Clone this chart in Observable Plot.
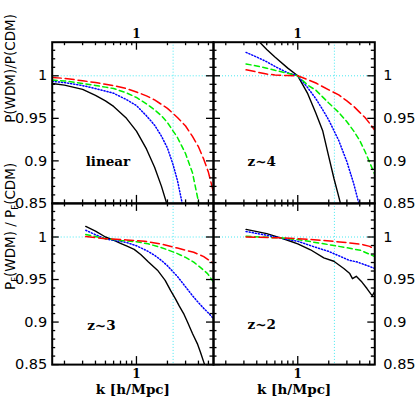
<!DOCTYPE html>
<html>
<head>
<meta charset="utf-8">
<script src="https://cdn.jsdelivr.net/npm/d3@7"></script>
<script src="https://cdn.jsdelivr.net/npm/@observablehq/plot@0.6"></script>
<style>
  html, body { margin: 0; padding: 0; background: #fff; }
  #chart { position: relative; width: 415px; height: 415px; overflow: hidden; background: #fff; }
  #chart > svg { position: absolute; left: 0; top: 0; max-width: none; }
</style>
</head>
<body>
<div id="chart"></div>
<script>
// ---------------- data ----------------
// panel "linear"
const kLinBlack = [0.152,0.2,0.3,0.4,0.5,0.6,0.8,1.0,1.25,1.5,1.75,2.0,2.5];
const vLinBlack = [0.991,0.989,0.984,0.977,0.9705,0.964,0.950,0.935,0.914,0.8925,0.870,0.847,0.80];
const kLinBlue  = [0.152,0.2,0.3,0.4,0.5,0.6,0.8,1.0,1.25,1.5,1.75,2.0,2.25,2.5,2.75,3.0];
const vLinBlue  = [0.9935,0.992,0.9885,0.985,0.982,0.9795,0.972,0.965,0.953,0.942,0.929,0.915,0.897,0.877,0.853,0.825];
const kLinGreen = [0.152,0.2,0.3,0.4,0.5,0.6,0.8,1.0,1.25,1.5,1.75,2.0,2.5,3.0,3.5,4.0,4.5];
const vLinGreen = [0.995,0.994,0.991,0.9887,0.9867,0.985,0.980,0.9745,0.967,0.960,0.953,0.945,0.9275,0.9085,0.886,0.852,0.82];
const kLinRed   = [0.152,0.2,0.3,0.4,0.5,0.6,0.8,1.0,1.25,1.5,2.0,2.5,3.0,3.5,4.0,4.5,5.0,5.6];
const vLinRed   = [0.998,0.997,0.9942,0.992,0.990,0.9885,0.985,0.981,0.9764,0.9717,0.9617,0.951,0.941,0.9287,0.9166,0.902,0.8865,0.863];

// panel "z~4"
const kZ4Black = [0.315,0.4,0.5,0.6,0.8,1.0,1.25,1.5,1.75,2.0,2.25,2.5,2.75,3.0];
const vZ4Black = [1.056,1.043,1.031,1.022,1.009,1.0,0.979,0.956,0.935,0.905,0.879,0.858,0.838,0.82];
const kZ4Blue  = [0.315,0.4,0.5,0.6,0.8,1.0,1.25,1.5,1.75,2.0,2.5,3.0,3.5,4.0,4.5];
const vZ4Blue  = [1.0275,1.022,1.0165,1.011,1.0035,1.0,0.986,0.973,0.960,0.948,0.924,0.899,0.873,0.846,0.82];
const kZ4Green = [0.315,0.4,0.5,0.6,0.8,1.0,1.25,1.5,2.0,2.5,3.0,3.5,4.0,4.5,5.0,5.6];
const vZ4Green = [1.014,1.0115,1.009,1.0065,1.003,1.0,0.989,0.983,0.968,0.957,0.946,0.935,0.924,0.911,0.898,0.884];
const kZ4Red   = [0.315,0.4,0.5,0.6,0.8,1.0,1.25,1.5,2.0,2.5,3.0,3.5,4.0,4.5,5.0,5.6];
const vZ4Red   = [1.007,1.0045,1.002,1.001,1.0003,1.0,0.9955,0.9915,0.9835,0.9775,0.9705,0.964,0.957,0.951,0.944,0.936];

// panel "z~3"
const kZ3Black = [0.322,0.4,0.5,0.6,0.7,0.8,0.95,1.1,1.3,1.6,1.9,2.15,2.4,2.6,2.9,3.13,3.5,3.9,4.2,4.53,5.0];
const vZ3Black = [1.0125,1.007,1.0,0.9962,0.9926,0.9895,0.9855,0.9795,0.971,0.961,0.949,0.937,0.927,0.919,0.909,0.900,0.8865,0.8747,0.864,0.852,0.835];
const kZ3Blue  = [0.322,0.4,0.5,0.6,0.8,1.0,1.25,1.5,1.75,2.0,2.5,3.0,3.5,4.0,4.5,5.0,5.6];
const vZ3Blue  = [1.0079,1.0027,0.9978,0.9961,0.9936,0.9897,0.9841,0.9785,0.9724,0.9662,0.9536,0.9414,0.931,0.9228,0.9161,0.9106,0.904];
const kZ3Green = [0.322,0.4,0.5,0.7,1.0,1.3,1.7,2.0,2.5,3.0,3.6,4.2,4.9,5.6];
const vZ3Green = [1.003,1.0005,0.998,0.996,0.9945,0.992,0.988,0.985,0.9805,0.976,0.9705,0.964,0.957,0.947];
const kZ3Red   = [0.322,0.5,0.8,1.2,1.7,2.5,3.6,4.5,5.6];
const vZ3Red   = [1.0005,0.998,0.9965,0.995,0.992,0.987,0.982,0.977,0.969];

// panel "z~2"
const kZ2Black = [0.315,0.5,0.68,0.85,1.0,1.33,1.79,2.24,2.8,3.2,3.4,3.7,4.2,4.7,5.1,5.3,5.6];
const vZ2Black = [1.009,1.004,0.999,0.995,0.992,0.985,0.9755,0.9715,0.963,0.957,0.951,0.9538,0.947,0.9394,0.9335,0.931,0.936];
const kZ2Blue  = [0.315,0.5,0.7,1.0,1.4,2.0,2.5,3.1,3.8,4.7,5.6];
const vZ2Blue  = [1.0065,1.002,0.9985,0.995,0.989,0.983,0.978,0.973,0.9705,0.9665,0.963];
const kZ2Green = [0.315,0.68,1.0,1.79,2.8,4.06,5.6];
const vZ2Green = [1.0008,0.999,0.997,0.992,0.988,0.9844,0.977];
const kZ2Red   = [0.315,0.68,1.0,1.79,3.02,4.3,5.0,5.6];
const vZ2Red   = [1.0,0.999,0.998,0.996,0.9934,0.991,0.989,0.9855];

// axes
const kDomain = [0.152, 5.6];
const vDomain = [0.85, 1.0395];
const kRef = [2.27];
const vRef = [1];
const kTicksMajor = [1];
const kTickLabels = ["1"];
const kTicksMinor = [0.2,0.3,0.4,0.5,0.6,0.7,0.8,0.9,2,3,4,5];
const vTicksMajor = [0.85,0.9,0.95,1];
const vTickLabels = ["0.85","0.9","0.95","1"];
const vTicksMinor = [0.86,0.87,0.88,0.89,0.91,0.92,0.93,0.94,0.96,0.97,0.98,0.99,1.01,1.02,1.03];

const panelLabels = ["linear","z~4","z~3","z~2"];
const yTitleTop = "P(WDM)/P(CDM)";
const yTitleBottom = "PF(WDM) / PF(CDM)";
const xTitle = "k [h/Mpc]";

// ---------------- styles ----------------
const styles = {
  black: {stroke: "#000000", strokeWidth: 1.4, strokeDasharray: null},
  blue:  {stroke: "#0000ff", strokeWidth: 1.5, strokeDasharray: "1.1,2"},
  green: {stroke: "#00ee00", strokeWidth: 1.5, strokeDasharray: "5,3.5"},
  red:   {stroke: "#ff0000", strokeWidth: 1.5, strokeDasharray: "9,4"}
};

const zipKV = (ks, vs) => ks.map((k, i) => ({k, v: vs[i]}));

const W = 161.3, H = 161.2;
const SANS = "DejaVu Sans", SERIF = "DejaVu Serif";

function makePanel(p) {
  const marks = [
    Plot.ruleX(kRef, {x: d => d, stroke: "#33e6f0", strokeWidth: 0.9, strokeDasharray: "1,2"}),
    Plot.ruleY(vRef, {y: d => d, stroke: "#33e6f0", strokeWidth: 0.9, strokeDasharray: "1,2"})
  ];
  for (const [name, ks, vs] of p.series) {
    const s = styles[name];
    marks.push(Plot.line(zipKV(ks, vs), {x: "k", y: "v", stroke: s.stroke, strokeWidth: s.strokeWidth,
      strokeDasharray: s.strokeDasharray, clip: true, strokeLinejoin: "round"}));
  }
  marks.push(Plot.frame({stroke: "#000", strokeWidth: 2}));
  const tk = {stroke: "#000", strokeWidth: 1.3};
  marks.push(
    Plot.ruleX(kTicksMinor, {x: d => d, insetTop: H - 3.5, ...tk}),
    Plot.ruleX(kTicksMinor, {x: d => d, insetBottom: H - 3.5, ...tk}),
    Plot.ruleX(kTicksMajor, {x: d => d, insetTop: H - 8, ...tk}),
    Plot.ruleX(kTicksMajor, {x: d => d, insetBottom: H - 8, ...tk}),
    Plot.ruleY(vTicksMinor, {y: d => d, insetRight: W - 3.5, ...tk}),
    Plot.ruleY(vTicksMinor, {y: d => d, insetLeft: W - 3.5, ...tk}),
    Plot.ruleY(vTicksMajor, {y: d => d, insetRight: W - 7, ...tk}),
    Plot.ruleY(vTicksMajor, {y: d => d, insetLeft: W - 7, ...tk})
  );
  if (p.ySide === "left") {
    marks.push(Plot.text(vTicksMajor, {y: d => d, text: (d, i) => vTickLabels[i], frameAnchor: "left",
      textAnchor: "end", dx: -5, fontSize: 14.5, fontFamily: SANS, fill: "#000"}));
  } else {
    marks.push(Plot.text(vTicksMajor, {y: d => d, text: (d, i) => vTickLabels[i], frameAnchor: "right",
      textAnchor: "start", dx: 8.5, fontSize: 14.5, fontFamily: SANS, fill: "#000"}));
  }
  marks.push(Plot.text(kTicksMajor, {x: d => d, text: (d, i) => kTickLabels[i],
    frameAnchor: p.xSide, dy: p.xSide === "top" ? -12.5 : 13.5,
    fontSize: 12, fontWeight: "bold", fontFamily: SERIF, fill: "#000"}));
  marks.push(Plot.text([p.label], {text: d => d, frameAnchor: "top-left", textAnchor: "start",
    dx: p.labelDx, dy: p.labelDy, fontSize: 13.5, fontWeight: "bold", fontFamily: SERIF, fill: "#000"}));
  if (p.yTitle) {
    marks.push(Plot.text([p.yTitle], {text: d => d, frameAnchor: "left", rotate: -90, dx: -42, dy: p.yTitleDy,
      fontSize: 13.5, fontFamily: SANS, fill: "#000"}));
  }
  if (p.xTitle) {
    marks.push(Plot.text([p.xTitle], {text: d => d, frameAnchor: "bottom", dy: 29.5,
      fontSize: 13.5, fontWeight: "bold", fontFamily: SERIF, fill: "#000"}));
  }
  return Plot.plot({
    width: 415, height: 415,
    marginLeft: p.left, marginTop: p.top,
    marginRight: 415 - p.left - W, marginBottom: 415 - p.top - H,
    x: {type: "log", domain: kDomain, axis: null},
    y: {domain: vDomain, axis: null},
    style: {background: "transparent", overflow: "visible"},
    marks
  });
}

const L1 = 51.7, L2 = 51.7 + W, T1 = 41.7, T2 = 41.7 + H;

const panels = [
  {left: L1, top: T1, ySide: "left", xSide: "top", label: panelLabels[0], labelDx: 33.5, labelDy: 114,
   yTitle: yTitleTop, yTitleDy: 0,
   series: [["black", kLinBlack, vLinBlack], ["blue", kLinBlue, vLinBlue], ["green", kLinGreen, vLinGreen], ["red", kLinRed, vLinRed]]},
  {left: L2, top: T1, ySide: "right", xSide: "top", label: panelLabels[1], labelDx: 34, labelDy: 114,
   series: [["black", kZ4Black, vZ4Black], ["blue", kZ4Blue, vZ4Blue], ["green", kZ4Green, vZ4Green], ["red", kZ4Red, vZ4Red]]},
  {left: L1, top: T2, ySide: "left", xSide: "bottom", label: panelLabels[2], labelDx: 35, labelDy: 117,
   yTitle: yTitleBottom, yTitleDy: 6, xTitle: xTitle,
   series: [["black", kZ3Black, vZ3Black], ["blue", kZ3Blue, vZ3Blue], ["green", kZ3Green, vZ3Green], ["red", kZ3Red, vZ3Red]]},
  {left: L2, top: T2, ySide: "right", xSide: "bottom", label: panelLabels[3], labelDx: 34, labelDy: 116, xTitle: xTitle,
   series: [["black", kZ2Black, vZ2Black], ["blue", kZ2Blue, vZ2Blue], ["green", kZ2Green, vZ2Green], ["red", kZ2Red, vZ2Red]]}
];

const chart = document.getElementById("chart");
for (const p of panels) {
  const svg = makePanel(p);
  chart.appendChild(svg);
  d3.select(svg).selectAll("text").each(function() {
    if (this.textContent === yTitleBottom) {
      const t = d3.select(this);
      t.text(null);
      const parts = [["P", 0], ["F", 1], ["(WDM) / P", 0], ["F", 1], ["(CDM)", 0]];
      let shifted = false;
      for (const [str, sub] of parts) {
        const ts = t.append("tspan").text(str);
        if (sub) { ts.attr("dy", 3.5).attr("font-size", 8.5); shifted = true; }
        else if (shifted) { ts.attr("dy", -3.5); shifted = false; }
      }
    }
  });
}
</script>
</body>
</html>
